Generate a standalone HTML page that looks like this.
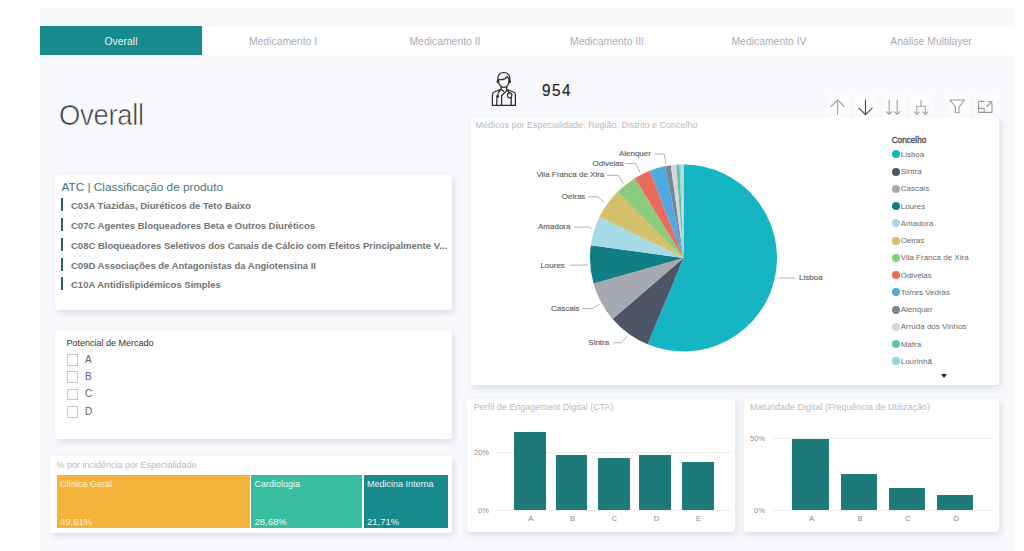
<!DOCTYPE html>
<html><head><meta charset="utf-8"><style>
*{margin:0;padding:0;box-sizing:border-box}
html,body{width:1024px;height:551px;overflow:hidden;background:#fff;font-family:"Liberation Sans",sans-serif}
.abs{position:absolute}
#page{position:absolute;left:40px;top:8px;width:973px;height:560px;background:#f7f9fc}
#tabs{position:absolute;left:40px;top:25.5px;width:973px;height:29px;background:#ffffff}
.tab{position:absolute;top:0;width:162px;height:29px;line-height:31px;text-align:center;font-size:10.4px;color:#a9abb6}
.tab.on{background:#178a8e;color:#e9f6f6}
.card{position:absolute;background:#fff;border-radius:3px;box-shadow:2px 3px 6px rgba(120,130,150,0.22)}
.pl{position:absolute;font-size:8px;line-height:12px;color:#626262;white-space:nowrap;-webkit-text-stroke:0.15px #626262}
.lg{position:absolute;left:891.5px;font-size:8px;line-height:12px;color:#6a6a6a;white-space:nowrap}
.dot{display:inline-block;width:8px;height:8px;border-radius:50%;vertical-align:-1.5px;margin-right:1.2px}
.bar{position:absolute;background:#1e7a78}
.ttl{position:absolute;font-size:9px;color:#b9b9bf;white-space:nowrap}
.ax{position:absolute;font-size:7.5px;color:#8a8a8a}
.atc{position:absolute;left:61px;width:2.3px;height:13px;background:#2a5f66}
.atct{position:absolute;left:71px;font-size:9.5px;font-weight:bold;color:#737373;white-space:nowrap}
.cb{position:absolute;left:66.5px;width:11.5px;height:11.5px;border:1px solid #c6c6c6;background:#fff}
.cbt{position:absolute;left:85px;font-size:10px;color:#606060}
.ico{position:absolute;top:95px;width:24px;height:24px}
</style></head><body>
<div id="page"></div>
<div id="tabs">
 <div class="tab on" style="left:0">Overall</div>
 <div class="tab" style="left:162px">Medicamento I</div>
 <div class="tab" style="left:324px">Medicamento II</div>
 <div class="tab" style="left:486px">Medicamento III</div>
 <div class="tab" style="left:648px">Medicamento IV</div>
 <div class="tab" style="left:810px">Análise Multilayer</div>
</div>

<div class="abs" style="left:59px;top:99px;font-size:29px;color:#3c3c3c;-webkit-text-stroke:0.6px #f7f9fc;letter-spacing:-0.3px;transform:scaleX(0.945);transform-origin:0 0">Overall</div>

<!-- ATC card -->
<div class="card" style="left:55px;top:175px;width:397px;height:135px"></div>
<div class="abs" style="left:61.5px;top:179.5px;font-size:11.8px;color:#4a757b;white-space:nowrap">ATC | Classificação de produto</div>
<div class="atc" style="top:198px"></div><div class="atct" style="top:200px">C03A Tiazidas, Diuréticos de Teto Baixo</div>
<div class="atc" style="top:218px"></div><div class="atct" style="top:220px">C07C Agentes Bloqueadores Beta e Outros Diuréticos</div>
<div class="atc" style="top:238px"></div><div class="atct" style="top:240px">C08C Bloqueadores Seletivos dos Canais de Cálcio com Efeitos Principalmente V...</div>
<div class="atc" style="top:258px"></div><div class="atct" style="top:260px">C09D Associações de Antagonistas da Angiotensina II</div>
<div class="atc" style="top:277px"></div><div class="atct" style="top:279px">C10A Antidislipidémicos Simples</div>

<!-- Potencial card -->
<div class="card" style="left:55px;top:330px;width:397px;height:109px"></div>
<div class="abs" style="left:66.5px;top:338px;font-size:9px;color:#333">Potencial de Mercado</div>
<div class="cb" style="top:354px"></div><div class="cbt" style="top:353.5px">A</div>
<div class="cb" style="top:371px"></div><div class="cbt" style="top:370.5px">B</div>
<div class="cb" style="top:388.5px"></div><div class="cbt" style="top:388px">C</div>
<div class="cb" style="top:406px"></div><div class="cbt" style="top:405.5px">D</div>

<!-- treemap card -->
<div class="card" style="left:50px;top:456px;width:402px;height:77px"></div>
<div class="ttl" style="left:56.4px;top:459.8px">% por incidência por Especialidade</div>
<div class="abs" style="left:57px;top:475px;width:193px;height:53px;background:#f6b33a"></div>
<div class="abs" style="left:251px;top:475px;width:111px;height:53px;background:#38bd9f"></div>
<div class="abs" style="left:363.5px;top:475px;width:84px;height:53px;background:#178a8e"></div>
<div class="abs" style="left:60px;top:479px;font-size:9px;color:#fff4dc">Clínica Geral</div>
<div class="abs" style="left:60px;top:515.5px;font-size:9.5px;color:#fff4dc">49,61%</div>
<div class="abs" style="left:254.5px;top:479px;font-size:9px;color:#eefaf6">Cardiologia</div>
<div class="abs" style="left:254.5px;top:515.5px;font-size:9.5px;color:#eefaf6">28,68%</div>
<div class="abs" style="left:367px;top:479px;font-size:9px;color:#e9f5f5">Medicina Interna</div>
<div class="abs" style="left:367px;top:515.5px;font-size:9.5px;color:#e9f5f5">21,71%</div>

<!-- KPI -->
<svg class="abs" style="left:488px;top:68px" width="34" height="40" viewBox="0 0 34 40">
 <g fill="none" stroke="#2e2e2e" stroke-width="1.25" stroke-linejoin="round" stroke-linecap="round">
  <path d="M10.2,13.5 C9.2,8.5 11,4.6 15.8,4.5 C20.6,4.6 22.6,8.5 21.6,13.5"/>
  <path d="M10.6,11.6 C12.8,11.9 15.5,11.6 17.2,10.6 C18.2,9.8 18.8,9 19.2,8.6 C20,10 20.8,11 21.3,11.6"/>
  <path d="M10.6,11.8 C10.4,16.5 12.6,19.4 15.8,19.4 C19,19.4 21.2,16.5 21,11.8"/>
  <path d="M10.2,12.4 C8.8,12.6 8.8,14.6 10.4,14.8 M21.4,12.4 C22.8,12.6 22.8,14.6 21.2,14.8"/>
  <path d="M13.1,18.6 V21.4 L6.2,24 C5,24.5 4.4,25.5 4.4,27 V37.4 H27.4 V27 C27.4,25.5 26.8,24.5 25.6,24 L18.7,21.4 V18.6"/>
  <path d="M13.1,21.4 L15.6,23.3"/>
  <path d="M19.4,21.8 L13.6,27.8 V37.4"/>
  <path d="M12.2,22.2 C10.4,23.8 9.6,25.6 9.6,27.6"/>
  <circle cx="9.6" cy="28.4" r="0.9" fill="#2e2e2e"/>
  <path d="M19.6,22.4 C20.2,23.6 20.8,24.4 21.6,24.8"/>
  <ellipse cx="21.7" cy="27.3" rx="2.2" ry="2.5"/>
  <path d="M8.8,30.6 V37.4 M23.2,29.8 V37.4"/>
 </g>
</svg>
<div class="abs" style="left:542.3px;top:81px;font-size:17px;color:#252525;letter-spacing:1.6px;-webkit-text-stroke:0.2px #252525;transform:scaleX(0.9);transform-origin:0 0">954</div>

<!-- toolbar icons -->
<div class="abs" style="left:826px;top:94px;width:24px;height:24px;background:#fbfcfd"></div>
<div class="abs" style="left:854px;top:94px;width:24px;height:24px;background:#fbfcfd"></div>
<div class="abs" style="left:882px;top:94px;width:24px;height:24px;background:#fbfcfd"></div>
<div class="abs" style="left:910px;top:94px;width:24px;height:24px;background:#fbfcfd"></div>
<div class="abs" style="left:946px;top:94px;width:24px;height:24px;background:#fbfcfd"></div>
<div class="abs" style="left:974px;top:94px;width:24px;height:24px;background:#fbfcfd"></div>
<svg class="abs" style="left:0;top:0" width="1024" height="551">
 <g fill="none" stroke-width="1.1" stroke-linecap="round">
  <path d="M837.6,100 V114.7 M831,106.5 L837.6,100 L844.2,106.5" stroke="#a2a2a2"/>
  <path d="M865.5,100 V114.7 M858.9,108.2 L865.5,114.7 L872.1,108.2" stroke="#4a4a4a"/>
  <path d="M889.2,100 V114.5 M886.4,111.6 L889.2,114.5 L892,111.6 M897.2,100 V114.5 M894.4,111.6 L897.2,114.5 L900,111.6" stroke="#a2a2a2"/>
  <path d="M921,100 V106.3 M916.8,106.3 H925.4 M916.8,106.3 V114.5 M925.4,106.3 V114.5 M914.3,111.9 L916.8,114.5 L919.3,111.9 M922.9,111.9 L925.4,114.5 L927.9,111.9" stroke="#a2a2a2"/>
  <path d="M950,100 H964.5 L959,107 V112.8 H955.5 V107 Z" stroke="#9a9a9a" stroke-linejoin="round"/>
  <path d="M984.2,101.4 H978.6 V112.4 H992 V105.4 M978.6,108.4 H984.2 V112.4 M987,106.5 L991.7,101.7 M988,101.5 H991.8 V105" stroke="#9a9a9a"/>
 </g>
</svg>

<!-- pie card -->
<div class="card" style="left:471px;top:117px;width:528px;height:268px"></div>
<div class="ttl" style="left:475.5px;top:120px">Médicos por Especialidade, Região, Distrito e Concelho</div>
<svg class="abs" style="left:0;top:0" width="1024" height="551">
<path d="M683.5,258.0 L683.50,164.50 A93.5,93.5 0 1 1 647.57,344.32 Z" fill="#15b5c4"/>
<path d="M683.5,258.0 L647.57,344.32 A93.5,93.5 0 0 1 612.61,318.97 Z" fill="#4c5566"/>
<path d="M683.5,258.0 L612.61,318.97 A93.5,93.5 0 0 1 593.53,283.46 Z" fill="#a6a9b0"/>
<path d="M683.5,258.0 L593.53,283.46 A93.5,93.5 0 0 1 590.87,245.31 Z" fill="#117d84"/>
<path d="M683.5,258.0 L590.87,245.31 A93.5,93.5 0 0 1 599.61,216.72 Z" fill="#a6dbe6"/>
<path d="M683.5,258.0 L599.61,216.72 A93.5,93.5 0 0 1 617.62,191.66 Z" fill="#d2c06a"/>
<path d="M683.5,258.0 L617.62,191.66 A93.5,93.5 0 0 1 634.79,178.19 Z" fill="#8dcb7c"/>
<path d="M683.5,258.0 L634.79,178.19 A93.5,93.5 0 0 1 649.99,170.71 Z" fill="#ea6a5d"/>
<path d="M683.5,258.0 L649.99,170.71 A93.5,93.5 0 0 1 665.02,166.34 Z" fill="#4da9df"/>
<path d="M683.5,258.0 L665.02,166.34 A93.5,93.5 0 0 1 670.81,165.37 Z" fill="#7b8492"/>
<path d="M683.5,258.0 L670.81,165.37 A93.5,93.5 0 0 1 676.16,164.79 Z" fill="#d3d6da"/>
<path d="M683.5,258.0 L676.16,164.79 A93.5,93.5 0 0 1 679.58,164.58 Z" fill="#5ec3a7"/>
<path d="M683.5,258.0 L679.58,164.58 A93.5,93.5 0 0 1 681.54,164.52 Z" fill="#8fd6df"/>
<path d="M683.5,258.0 L681.54,164.52 A93.5,93.5 0 0 1 683.50,164.50 Z" fill="#c9d8d0"/>
<polyline points="654.3,154 664.3,154 666,164.5" fill="none" stroke="#b4b4b4" stroke-width="1"/><polyline points="625.5,163.6 636,163.6 640,172.7" fill="none" stroke="#b4b4b4" stroke-width="1"/><polyline points="607,175.4 618.4,175.4 623.4,183.5" fill="none" stroke="#b4b4b4" stroke-width="1"/><polyline points="588,196.8 598,196.8 604.4,202.6" fill="none" stroke="#b4b4b4" stroke-width="1"/><polyline points="574,227.1 589,227.1 591.7,228.9" fill="none" stroke="#b4b4b4" stroke-width="1"/><polyline points="569.8,265.2 587.7,265.0" fill="none" stroke="#b4b4b4" stroke-width="1"/><polyline points="582,308.6 592,308.6 599.7,304.2" fill="none" stroke="#b4b4b4" stroke-width="1"/><polyline points="613,342.7 621.4,342.7 627.3,335.8" fill="none" stroke="#b4b4b4" stroke-width="1"/><polyline points="777.7,278.1 795,278.1" fill="none" stroke="#b4b4b4" stroke-width="1"/>
</svg>
<div class="pl" style="left:618.9px;top:148.3px">Alenquer</div><div class="pl" style="left:592.6px;top:157.6px">Odivelas</div><div class="pl" style="left:536.4px;top:169.4px">Vila Franca de Xira</div><div class="pl" style="left:561.8px;top:190.8px">Oeiras</div><div class="pl" style="left:538.0px;top:221.1px">Amadora</div><div class="pl" style="left:540.4px;top:259.5px">Loures</div><div class="pl" style="left:551.0px;top:302.6px">Cascais</div><div class="pl" style="left:588.3px;top:336.7px">Sintra</div><div class="pl" style="left:799.0px;top:272.1px">Lisboa</div>
<div class="abs" style="left:891.7px;top:135.5px;font-size:8.2px;color:#4a4a4a;-webkit-text-stroke:0.3px #4a4a4a">Concelho</div>
<div class="lg" style="top:148.8px"><span class="dot" style="background:#15b5c4"></span>Lisboa</div><div class="lg" style="top:166.1px"><span class="dot" style="background:#4c5566"></span>Sintra</div><div class="lg" style="top:183.3px"><span class="dot" style="background:#a6a9b0"></span>Cascais</div><div class="lg" style="top:200.6px"><span class="dot" style="background:#117d84"></span>Loures</div><div class="lg" style="top:217.8px"><span class="dot" style="background:#a6dbe6"></span>Amadora</div><div class="lg" style="top:235.1px"><span class="dot" style="background:#d2c06a"></span>Oeiras</div><div class="lg" style="top:252.3px"><span class="dot" style="background:#8dcb7c"></span>Vila Franca de Xira</div><div class="lg" style="top:269.6px"><span class="dot" style="background:#ea6a5d"></span>Odivelas</div><div class="lg" style="top:286.8px"><span class="dot" style="background:#4da9df"></span>Torres Vedras</div><div class="lg" style="top:304.1px"><span class="dot" style="background:#7b8492"></span>Alenquer</div><div class="lg" style="top:321.3px"><span class="dot" style="background:#d3d6da"></span>Arruda dos Vinhos</div><div class="lg" style="top:338.6px"><span class="dot" style="background:#5ec3a7"></span>Mafra</div><div class="lg" style="top:355.8px"><span class="dot" style="background:#8fd6df"></span>Lourinhã</div>
<div class="abs" style="left:940.5px;top:374px;width:0;height:0;border-left:3.5px solid transparent;border-right:3.5px solid transparent;border-top:4px solid #222"></div>

<!-- bar chart 1 -->
<div class="card" style="left:467px;top:399px;width:268px;height:133px"></div>
<div class="ttl" style="left:473.7px;top:402px">Perfil de Engagement Digital (CTA)</div>
<div class="abs" style="left:495.5px;top:452px;width:237px;height:1px;background:#eeeeee"></div>
<div class="abs" style="left:495.5px;top:510px;width:237px;height:1px;background:#eeeeee"></div>
<div class="ax" style="left:474px;top:448px">20%</div>
<div class="ax" style="left:478px;top:506px">0%</div>
<div class="bar" style="left:513.9px;top:431.8px;width:31.7px;height:78.5px"></div>
<div class="bar" style="left:555.7px;top:454.5px;width:31.7px;height:55.8px"></div>
<div class="bar" style="left:597.5px;top:457.5px;width:32.0px;height:52.8px"></div>
<div class="bar" style="left:639.4px;top:455.1px;width:32.0px;height:55.2px"></div>
<div class="bar" style="left:681.5px;top:461.6px;width:32.0px;height:48.7px"></div>
<div class="ax" style="left:520.8px;top:514px;width:20px;text-align:center">A</div>
<div class="ax" style="left:562.5px;top:514px;width:20px;text-align:center">B</div>
<div class="ax" style="left:604.5px;top:514px;width:20px;text-align:center">C</div>
<div class="ax" style="left:646.4px;top:514px;width:20px;text-align:center">D</div>
<div class="ax" style="left:688.5px;top:514px;width:20px;text-align:center">E</div>

<!-- bar chart 2 -->
<div class="card" style="left:744px;top:399px;width:255px;height:133px"></div>
<div class="ttl" style="left:750px;top:402px">Maturidade Digital (Frequência de Utilização)</div>
<div class="abs" style="left:772px;top:438px;width:221px;height:1px;background:#eeeeee"></div>
<div class="abs" style="left:772px;top:510px;width:221px;height:1px;background:#eeeeee"></div>
<div class="ax" style="left:750px;top:434px">50%</div>
<div class="ax" style="left:754px;top:506px">0%</div>
<div class="bar" style="left:792.4px;top:439.2px;width:36.4px;height:71.1px"></div>
<div class="bar" style="left:840.8px;top:474.2px;width:36.4px;height:36.1px"></div>
<div class="bar" style="left:889px;top:487.6px;width:36.0px;height:22.7px"></div>
<div class="bar" style="left:936.8px;top:495px;width:36.6px;height:15.3px"></div>
<div class="ax" style="left:801.6px;top:514px;width:20px;text-align:center">A</div>
<div class="ax" style="left:850.0px;top:514px;width:20px;text-align:center">B</div>
<div class="ax" style="left:898.0px;top:514px;width:20px;text-align:center">C</div>
<div class="ax" style="left:946.1px;top:514px;width:20px;text-align:center">D</div>
</body></html>
